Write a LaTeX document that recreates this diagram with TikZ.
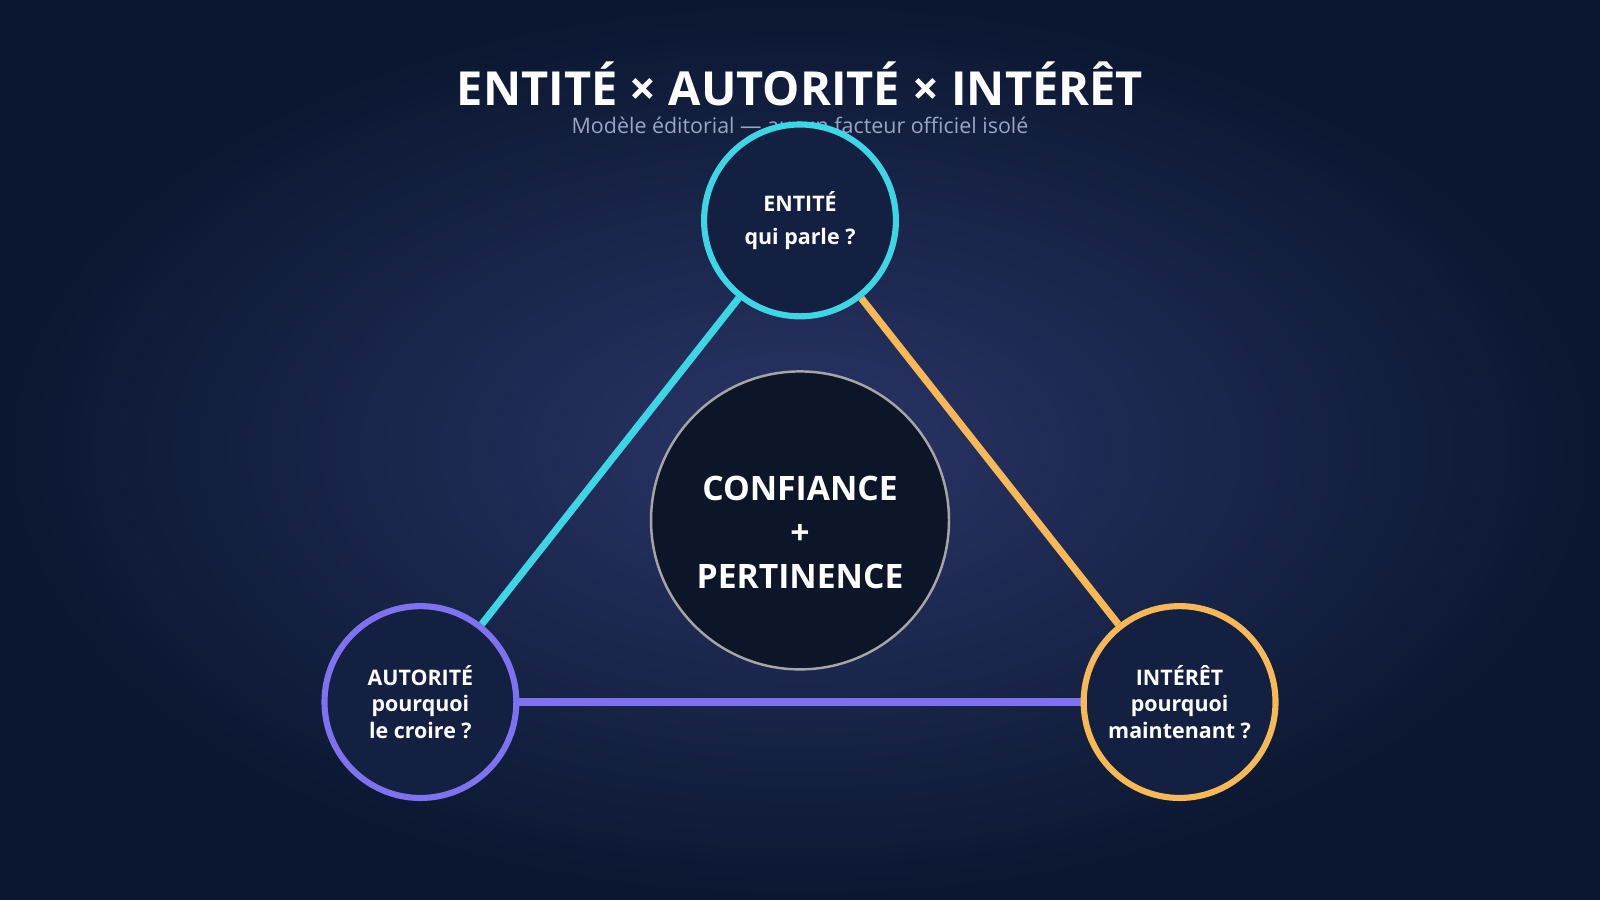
\documentclass[tikz,border=0pt]{standalone}
\usepackage{fontspec}
\setmainfont{Open Sans}
\usetikzlibrary{positioning,backgrounds}
\definecolor{bgin}{HTML}{2A3568}
\definecolor{bgout}{HTML}{0B1730}
\definecolor{cyanc}{HTML}{3CD6E4}
\definecolor{goldc}{HTML}{F6B955}
\definecolor{violc}{HTML}{7E72EE}
\definecolor{corefill}{HTML}{0D1628}
\definecolor{subc}{HTML}{9AA6C4}
\tikzset{
  pillar/.style={circle,draw=#1,line width=3pt,fill=bgout!70!bgin,minimum size=94pt,inner sep=0pt,
    align=center,text=white,font=\fontsize{10.5}{13}\selectfont\bfseries},
  edge/.style={line width=3.5pt,draw=#1},
}
\begin{document}
\begin{tikzpicture}[x=0.5pt,y=-0.5pt]
  \node (title) at (784,82) [text=white,font=\fontsize{23}{28}\selectfont\bfseries] {ENTITÉ × AUTORITÉ × INTÉRÊT};
  \node (sub) at (784,123) [text=subc,font=\fontsize{10.5}{13}\selectfont] {Modèle éditorial — aucun facteur officiel isolé};

  \node (ent) at (784,216) [pillar=cyanc,font=\fontsize{10.5}{16}\selectfont\bfseries] {ENTITÉ\\qui parle ?};
  \node (aut) at (412,688) [pillar=violc] {AUTORITÉ\\pourquoi\\le croire ?};
  \node (int) at (1156,688) [pillar=goldc] {INTÉRÊT\\pourquoi\\maintenant ?};

  \node (core) at (784,510) [circle,draw=gray!70,line width=1.2pt,fill=corefill,minimum size=146pt] {};
  \node (coretxt) at (784,522) [align=center,text=white,font=\fontsize{16.5}{21.5}\selectfont\bfseries]
    {CONFIANCE\\+\\PERTINENCE};

  \begin{scope}[on background layer]
    \shade[inner color=bgin,outer color=bgout] (0,0) rectangle (1568,882);
    \draw [edge=cyanc] (ent) -- (aut);
    \draw [edge=goldc] (ent) -- (int);
    \draw [edge=violc] (aut) -- (int);
  \end{scope}
  \useasboundingbox (0,0) rectangle (1568,882);
\end{tikzpicture}
\end{document}
